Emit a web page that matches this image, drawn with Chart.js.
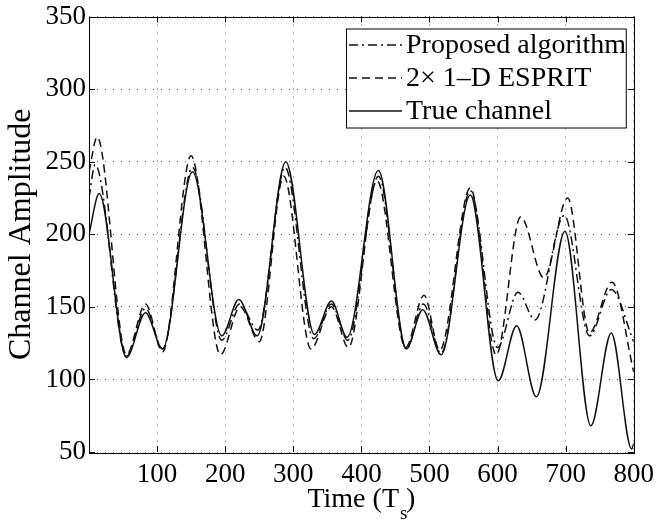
<!DOCTYPE html>
<html>
<head>
<meta charset="utf-8">
<script src="https://cdn.jsdelivr.net/npm/chart.js@4/dist/chart.umd.min.js"></script>
<style>
html,body{margin:0;padding:0;background:#fff;}
#wrap{width:663px;height:525px;}
</style>
</head>
<body>
<div id="wrap"><canvas id="c" width="663" height="525"></canvas></div>
<script>
// ---- data ----
const seriesNames = ['Proposed algorithm', '2\u00d7 1\u2013D ESPRIT', 'True channel'];
const xTickValues = [100, 200, 300, 400, 500, 600, 700, 800];
const yTickValues = [50, 100, 150, 200, 250, 300, 350];

const proposedX = [0, 9, 55, 83, 108, 152, 195, 221, 248, 288, 330, 356, 380, 425, 466, 491, 517, 560, 600, 630, 655, 698, 735, 767, 800];
const proposedY = [225, 248, 116, 149, 121, 246, 127, 152, 134, 246, 128, 152, 127, 240, 121, 152, 118, 230, 122, 160, 141, 213, 130, 162, 126];

const espritX = [0, 12, 55, 83, 108, 150, 193, 222, 250, 286, 326, 356, 381, 423, 465, 492, 515, 560, 598, 634, 668, 703, 735, 768, 800];
const espritY = [243, 267, 117, 152, 119, 254, 117, 150, 126, 240, 121, 150, 122, 237, 122, 158, 120, 232, 117, 212, 170, 225, 132, 167, 105];

const trueX = [0, 15, 55, 83, 108, 152, 195, 220, 247, 289, 331, 356, 379, 425, 466, 490, 517, 560, 601, 628, 657, 699, 737, 767, 797, 800];
const trueY = [200, 228, 115, 146, 121, 243, 130, 155, 130, 250, 131, 154, 129, 244, 121, 148, 117, 227, 99, 137, 88, 202, 68, 132, 52, 56];

const toPoints = (xs, ys) => xs.map((v, i) => ({x: v, y: ys[i]}));

const FONT = 'Liberation Serif, Times New Roman, serif';
const INK = '#111';

const framePlugin = {
  id: 'frame',
  afterDraw(chart) {
    const {ctx, chartArea: a, scales: {x, y}} = chart;
    ctx.save();
    ctx.strokeStyle = '#000';
    ctx.lineWidth = 1;
    ctx.setLineDash([]);
    ctx.strokeRect(Math.round(a.left) + 0.5, Math.round(a.top) + 0.5,
                   Math.round(a.right - a.left), Math.round(a.bottom - a.top));
    const tl = 6;
    const seg = (x1, y1, x2, y2) => { ctx.beginPath(); ctx.moveTo(x1, y1); ctx.lineTo(x2, y2); ctx.stroke(); };
    xTickValues.forEach(v => {
      const px = Math.round(x.getPixelForValue(v)) + 0.5;
      seg(px, a.bottom, px, a.bottom - tl);
      seg(px, a.top, px, a.top + tl);
    });
    yTickValues.forEach(v => {
      const py = Math.round(y.getPixelForValue(v)) + 0.5;
      seg(a.left, py, a.left + tl, py);
      seg(a.right, py, a.right - tl, py);
    });

    // legend box
    const lx0 = a.left + 257, ly0 = a.top + 12, lx1 = a.right - 8, ly1 = a.top + 111;
    ctx.fillStyle = '#fff';
    ctx.fillRect(lx0, ly0, lx1 - lx0, ly1 - ly0);
    ctx.strokeRect(lx0 + 0.5, ly0 + 0.5, lx1 - lx0, ly1 - ly0);
    const rowH = (ly1 - ly0) / 3;
    chart.data.datasets.forEach((ds, i) => {
      const cy = ly0 + rowH * (i + 0.5);
      ctx.save();
      ctx.strokeStyle = ds.borderColor;
      ctx.lineWidth = ds.borderWidth;
      ctx.setLineDash(ds.borderDash || []);
      seg(lx0 + 3, cy, lx0 + 56, cy);
      ctx.restore();
      ctx.fillStyle = '#000';
      ctx.font = '28px ' + FONT;
      ctx.textBaseline = 'middle';
      ctx.textAlign = 'left';
      ctx.fillText(ds.label, lx0 + 60, cy + 1);
    });

    // x axis title with subscript
    ctx.fillStyle = '#000';
    ctx.textBaseline = 'alphabetic';
    ctx.textAlign = 'left';
    const p1 = 'Time (T', p3 = ' )';
    ctx.font = '28px ' + FONT;
    const w1 = ctx.measureText(p1).width;
    const w3 = ctx.measureText(p3).width;
    const total = w1 + w3;
    const cx = (a.left + a.right) / 2;
    const bx = cx - total / 2;
    const by = a.bottom + 55;
    ctx.fillText(p1, bx, by);
    ctx.fillText(p3, bx + w1, by);
    ctx.font = '19px ' + FONT;
    ctx.fillText('s', bx + w1 + 1, by + 12);
    ctx.restore();
  }
};

new Chart(document.getElementById('c'), {
  type: 'line',
  data: {
    datasets: [
      {label: seriesNames[0], data: toPoints(proposedX, proposedY), borderColor: INK, borderWidth: 1.5, borderDash: [9, 4, 2, 4]},
      {label: seriesNames[1], data: toPoints(espritX, espritY), borderColor: INK, borderWidth: 1.5, borderDash: [8, 5]},
      {label: seriesNames[2], data: toPoints(trueX, trueY), borderColor: INK, borderWidth: 1.5, borderDash: []}
    ]
  },
  options: {
    responsive: false,
    animation: false,
    devicePixelRatio: 1,
    layout: {padding: {left: 0, right: 24, top: 16, bottom: 0}},
    plugins: {legend: {display: false}, tooltip: {enabled: false}},
    elements: {point: {radius: 0}, line: {cubicInterpolationMode: 'monotone', fill: false}},
    scales: {
      x: {
        type: 'linear', min: 0, max: 800,
        afterBuildTicks: ax => { ax.ticks = xTickValues.map(v => ({value: v})); },
        afterFit: ax => { ax.height = 73; },
        grid: {color: '#666', lineWidth: 1, drawTicks: false},
        border: {display: false, dash: [1, 7]},
        ticks: {font: {family: FONT, size: 27, lineHeight: 1}, color: '#000', padding: 9, autoSkip: false, maxRotation: 0}
      },
      y: {
        type: 'linear', min: 50, max: 350,
        afterBuildTicks: ax => { ax.ticks = yTickValues.map(v => ({value: v})); },
        afterFit: ax => { ax.width = 89; },
        grid: {color: '#666', lineWidth: 1, drawTicks: false},
        border: {display: false, dash: [1, 7]},
        ticks: {font: {family: FONT, size: 27, lineHeight: 1}, color: '#000', padding: 3},
        title: {display: true, text: 'Channel Amplitude', font: {family: FONT, size: 32}, color: '#000', padding: {top: 2, bottom: 0}}
      }
    }
  },
  plugins: [framePlugin]
});
</script>
</body>
</html>
